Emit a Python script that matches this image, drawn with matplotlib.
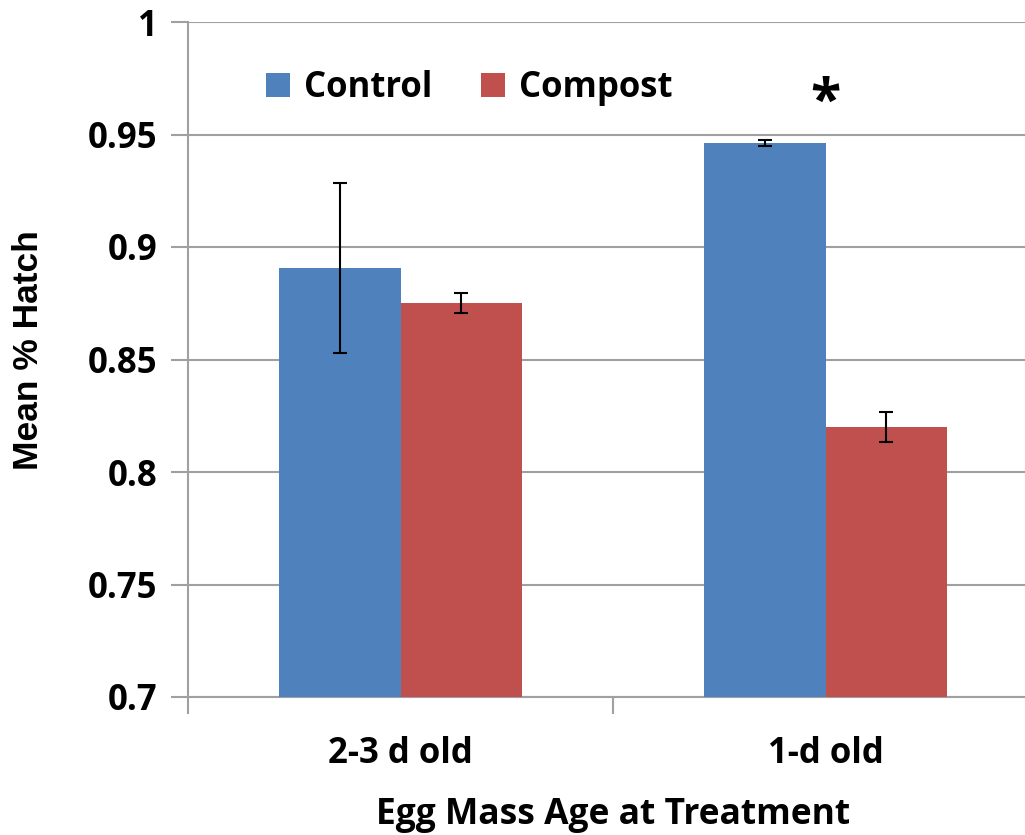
import numpy as np
import matplotlib.pyplot as plt
from matplotlib.font_manager import FontProperties

categories = ["2-3 d old", "1-d old"]
series = ["Control", "Compost"]
control_mean = [0.8907, 0.9462]
compost_mean = [0.8751, 0.8200]
control_err = [0.0376, 0.0014]
compost_err = [0.0045, 0.0067]
colors = ["#4F81BD", "#C0504D"]

plt.rcParams['font.family'] = ['Open Sans', 'DejaVu Sans']
plt.rcParams['font.weight'] = 'bold'

fig = plt.figure(figsize=(10.25, 8.35), dpi=100)
ax = fig.add_axes([188 / 1025, 138 / 835, 850 / 1025, 675 / 835])

x = np.arange(len(categories))
w = 0.285
means = [control_mean, compost_mean]
errs = [control_err, compost_err]
for i, name in enumerate(series):
    ax.bar(x + (i - 0.5) * w, means[i], width=w, color=colors[i], label=name,
           yerr=errs[i], capsize=5, zorder=3,
           error_kw=dict(ecolor='black', elinewidth=1.5, capthick=1.5))

ax.set_xlim(-0.5, 1.5)
ax.set_ylim(0.7, 1.0)
ax.set_yticks([0.7, 0.75, 0.8, 0.85, 0.9, 0.95, 1.0])
ax.set_yticklabels(["0.7", "0.75", "0.8", "0.85", "0.9", "0.95", "1"])
ax.yaxis.grid(True, color='#A0A0A0', linewidth=1.5, zorder=0)
ax.set_axisbelow(True)

# category boundaries get the tick marks, labels sit at the group centres
ax.set_xticks([-0.5, 0.5, 1.5])
ax.set_xticklabels([])
ax.set_xticks(x, minor=True)
ax.set_xticklabels(categories, minor=True)
ax.tick_params(axis='x', which='major', length=12, width=1.5, color='#A0A0A0')
ax.tick_params(axis='x', which='minor', length=0, pad=28, labelsize=25)
ax.tick_params(axis='y', length=12, width=1.5, color='#A0A0A0', labelsize=25, pad=10)

for s in ['top', 'right']:
    ax.spines[s].set_visible(False)
for s in ['left', 'bottom']:
    ax.spines[s].set_color('#A0A0A0')
    ax.spines[s].set_linewidth(1.5)

ylab_font = FontProperties(family='Liberation Sans', weight='bold', size=25.5)
ax.set_ylabel("Mean % Hatch", fontproperties=ylab_font)
ax.yaxis.set_label_coords(-0.168, 0.514)
ax.set_xlabel("Egg Mass Age at Treatment", fontsize=25.5, fontweight='bold', labelpad=18)

ax.text(1.0, 0.964, "*", ha='center', va='center', fontsize=40, fontweight='bold')

ax.legend(loc='upper left', bbox_to_anchor=(0.055, 0.975), ncol=2, frameon=False,
          fontsize=25, handlelength=0.7, handleheight=0.7, handletextpad=0.4,
          columnspacing=1.4)

fig.savefig("out.png", dpi=100)
